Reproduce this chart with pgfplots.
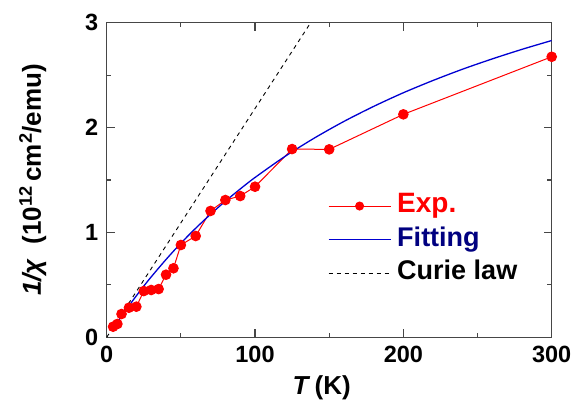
\documentclass[border=0pt]{standalone}
\usepackage{fontspec}
\setmainfont{Liberation Sans}
\usepackage{xcolor}
\usepackage{pgfplots}
\pgfplotsset{compat=1.18}

\definecolor{fitblue}{RGB}{0,0,210}
\definecolor{fitnavy}{RGB}{0,0,128}
\definecolor{axgray}{RGB}{70,70,70}

\begin{document}
\begin{tikzpicture}
\begin{axis}[
    scale only axis,
    width=445pt, height=314.6pt,
    xmin=0, xmax=300, ymin=0, ymax=3,
    xtick={0,100,200,300}, ytick={0,1,2,3},
    minor x tick num=1, minor y tick num=1,
    tick align=inside,
    major tick length=8pt, minor tick length=4.5pt,
    axis line style={axgray, line width=1.4pt},
    every tick/.style={axgray, line width=1.2pt},
    /pgf/number format/assume math mode=true,
    tick label style={font=\fontsize{23.5}{27}\selectfont\bfseries},
    xticklabel style={yshift=-5pt},
    yticklabel style={xshift=-5pt},
    label style={font=\fontsize{26}{30}\selectfont\bfseries},
    xlabel={\textit{T}\,(K)},
    ylabel={\textit{1/χ}\ \ (10\textsuperscript{12}\,cm\textsuperscript{2}/emu)},
    xlabel style={at={(axis description cs:0.483,-0.161)}, anchor=center},
    ylabel style={at={(axis description cs:-0.166,0.5)}, anchor=center},
    legend style={at={(rel axis cs:0.49,0.4735)}, anchor=north west,
        draw=none, fill=none, row sep=2.5pt,
        font=\fontsize{27}{31}\selectfont\bfseries,
        nodes={inner sep=2pt, text height=20pt, text depth=7pt}},
    legend cell align=left,
    legend image code/.code={%
        \draw[mark repeat=2,mark phase=2,#1,mark size=4pt]
        plot coordinates {(0pt,0pt) (31pt,0pt) (62pt,0pt)};
        \path (66pt,0pt);},
]
% experimental data
\addplot[red, line width=1pt, mark=*, mark size=4.8pt,
    mark options={fill=red, draw=red}] coordinates {
(4.3,0.101) (7.2,0.127) (10,0.222) (15,0.282) (20,0.292) (25,0.441)
(30,0.451) (35,0.460) (40,0.597) (45,0.658) (50,0.880) (60,0.966)
(70,1.205) (80,1.309) (90,1.347) (100,1.436) (125,1.795) (150,1.792)
(200,2.126) (300,2.675)};
\addlegendentry{\textcolor{red}{\fontsize{28}{31}\selectfont Exp.}}
% fitting curve
\addplot[fitblue, line width=1.3pt, smooth] coordinates {
(4,0.074) (5,0.096) (7,0.138) (10,0.200) (15,0.300) (20,0.396)
(25,0.488) (30,0.576) (40,0.742) (50,0.897) (60,1.040) (70,1.173)
(80,1.298) (90,1.414) (100,1.524) (120,1.723) (140,1.900) (160,2.059)
(180,2.202) (200,2.332) (220,2.449) (240,2.557) (260,2.655)
(280,2.746) (300,2.830)};
\addlegendentry{\textcolor{fitnavy}{Fitting}}
% Curie law
\addplot[black, line width=0.9pt, dash pattern=on 4pt off 4pt] coordinates {
(0,0) (137.5,3)};
\addlegendentry{Curie law}
\end{axis}
\pgfresetboundingbox
\path[use as bounding box] (-106.7pt,-74.7pt) rectangle (467.3pt,337.3pt);
\end{tikzpicture}
\end{document}
